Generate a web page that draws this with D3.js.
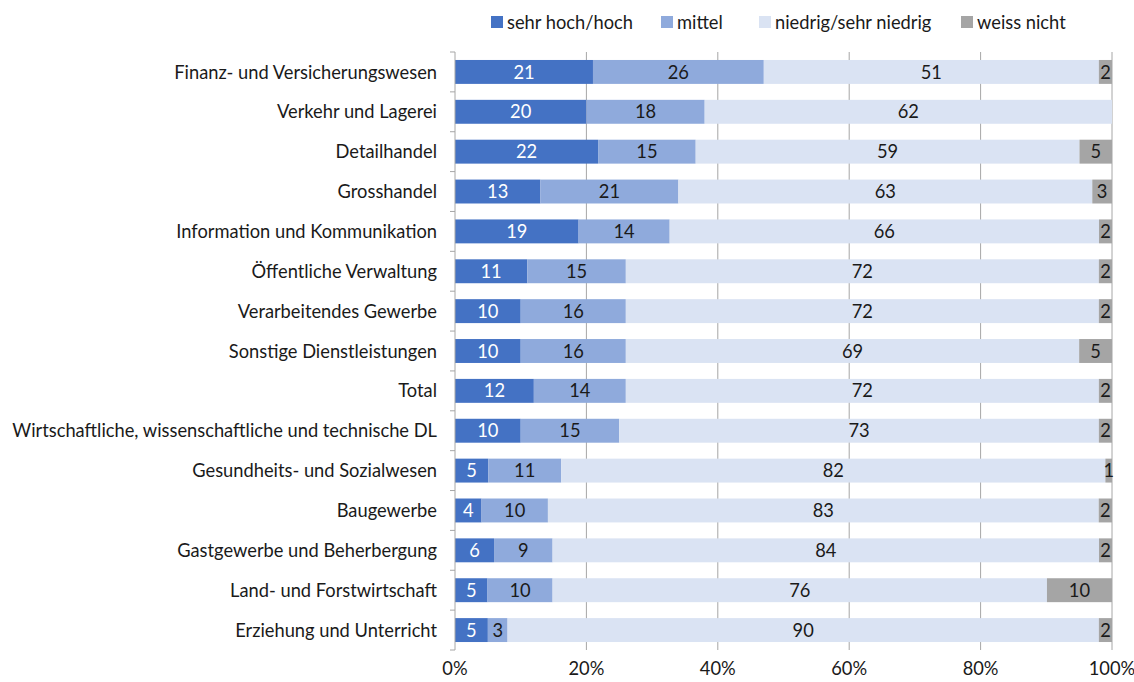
<!DOCTYPE html>
<html>
<head>
<meta charset="utf-8">
<script src="https://cdn.jsdelivr.net/npm/d3@7"></script>
<style>
  body { margin: 0; background: #fff; }
  text { font-family: Lato, "Open Sans", sans-serif; }
</style>
</head>
<body>
<script>
// categories top to bottom
var categories = [
  "Finanz- und Versicherungswesen",
  "Verkehr und Lagerei",
  "Detailhandel",
  "Grosshandel",
  "Information und Kommunikation",
  "Öffentliche Verwaltung",
  "Verarbeitendes Gewerbe",
  "Sonstige Dienstleistungen",
  "Total",
  "Wirtschaftliche, wissenschaftliche und technische DL",
  "Gesundheits- und Sozialwesen",
  "Baugewerbe",
  "Gastgewerbe und Beherbergung",
  "Land- und Forstwirtschaft",
  "Erziehung und Unterricht"
];
var seriesNames = ["sehr hoch/hoch", "mittel", "niedrig/sehr niedrig", "weiss nicht"];
var hoch =    [21, 20, 22, 13, 19, 11, 10, 10, 12, 10, 5, 4, 6, 5, 5];
var mittel =  [26, 18, 15, 21, 14, 15, 16, 16, 14, 15, 11, 10, 9, 10, 3];
var niedrig = [51, 62, 59, 63, 66, 72, 72, 69, 72, 73, 82, 83, 84, 76, 90];
var weiss =   [2, 0, 5, 3, 2, 2, 2, 5, 2, 2, 1, 2, 2, 10, 2];
var tickValues = [0, 0.2, 0.4, 0.6, 0.8, 1];

var colors = ["#4472C4", "#8FAADC", "#DAE3F3", "#A5A5A5"];
var labelColors = ["#ffffff", "#1a1a1a", "#1a1a1a", "#1a1a1a"];

var width = 1134, height = 682;
var fs = 18.3;
var svg = d3.select("body").append("svg")
  .attr("width", width)
  .attr("height", height);

var x = d3.scaleLinear().domain([0, 1]).range([455, 1112]);
var y = d3.scaleBand().domain(categories).range([52, 650]).paddingInner(0.4).paddingOuter(0.2);

// rows as objects for stacking
var rows = categories.map(function(c, i) {
  var vals = [hoch[i], mittel[i], niedrig[i], weiss[i]];
  var total = d3.sum(vals);
  var r = { cat: c };
  seriesNames.forEach(function(s, k) { r[s] = vals[k] / total; r[s + "_v"] = vals[k]; });
  return r;
});
var stack = d3.stack().keys(seriesNames);
var layers = stack(rows);

// gridlines
svg.append("g").selectAll("line")
  .data(tickValues.slice(1)).enter()
  .append("line")
  .attr("x1", function(d) { return x(d); })
  .attr("x2", function(d) { return x(d); })
  .attr("y1", 52).attr("y2", 650)
  .attr("stroke", "#a6a6a6").attr("stroke-width", 1);

// bars
var layer = svg.append("g").selectAll("g")
  .data(layers).enter()
  .append("g")
  .attr("fill", function(d, i) { return colors[i]; });

layer.selectAll("rect")
  .data(function(d) { return d; }).enter()
  .append("rect")
  .attr("x", function(d) { return x(d[0]); })
  .attr("width", function(d) { return x(d[1]) - x(d[0]); })
  .attr("y", function(d) { return y(d.data.cat); })
  .attr("height", y.bandwidth());

// value labels
layer.each(function(L, li) {
  d3.select(this).selectAll("text")
    .data(L.filter(function(d) { return d.data[L.key + "_v"] > 0; })).enter()
    .append("text")
    .attr("x", function(d) { return (x(d[0]) + x(d[1])) / 2; })
    .attr("y", function(d) { return y(d.data.cat) + y.bandwidth() / 2; })
    .attr("dy", "0.36em")
    .attr("text-anchor", "middle")
    .attr("font-size", fs)
    .attr("fill", labelColors[li])
    .text(function(d) { return d.data[L.key + "_v"]; });
});

// left axis line with tick marks between categories
var axisG = svg.append("g");
axisG.append("line")
  .attr("x1", 455).attr("x2", 455).attr("y1", 52).attr("y2", 650)
  .attr("stroke", "#a6a6a6");
var step = y.step();
d3.range(categories.length + 1).forEach(function(i) {
  axisG.append("line")
    .attr("x1", 450).attr("x2", 455)
    .attr("y1", 52 + i * step).attr("y2", 52 + i * step)
    .attr("stroke", "#a6a6a6");
});

// category labels
svg.append("g").selectAll("text")
  .data(categories).enter()
  .append("text")
  .attr("x", 437)
  .attr("y", function(d) { return y(d) + y.bandwidth() / 2; })
  .attr("dy", "0.36em")
  .attr("text-anchor", "end")
  .attr("font-size", fs)
  .attr("fill", "#1a1a1a")
  .text(function(d) { return d; });

// x axis labels
svg.append("g").selectAll("text")
  .data(tickValues).enter()
  .append("text")
  .attr("x", function(d) { return x(d); })
  .attr("y", 675)
  .attr("text-anchor", "middle")
  .attr("font-size", fs)
  .attr("fill", "#1a1a1a")
  .text(function(d) { return d3.format(".0%")(d); });

// legend
var legendX = [491, 661, 759, 961];
var legend = svg.append("g").selectAll("g")
  .data(seriesNames).enter()
  .append("g")
  .attr("transform", function(d, i) { return "translate(" + legendX[i] + ",22)"; });
legend.append("rect")
  .attr("x", 0).attr("y", -6).attr("width", 12).attr("height", 12)
  .attr("fill", function(d, i) { return colors[i]; });
legend.append("text")
  .attr("x", 16).attr("dy", "0.36em")
  .attr("font-size", fs)
  .attr("fill", "#1a1a1a")
  .text(function(d) { return d; });
</script>
</body>
</html>
